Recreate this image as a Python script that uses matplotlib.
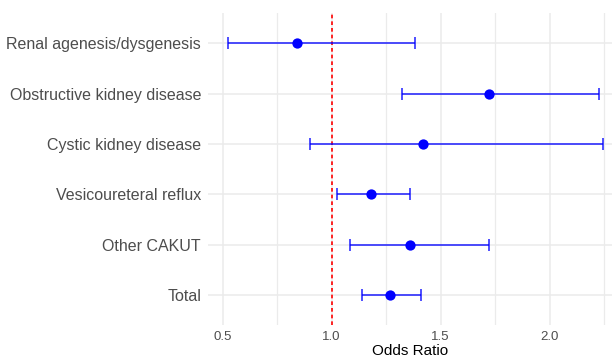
import matplotlib
matplotlib.use("Agg")
import matplotlib.pyplot as plt
from matplotlib.ticker import MultipleLocator

categories = ["Renal agenesis/dysgenesis", "Obstructive kidney disease",
              "Cystic kidney disease", "Vesicoureteral reflux",
              "Other CAKUT", "Total"]
odds_ratio = [0.842, 1.721, 1.420, 1.180, 1.359, 1.270]
ci_lower = [0.524, 1.323, 0.901, 1.024, 1.083, 1.141]
ci_upper = [1.383, 2.227, 2.244, 1.362, 1.721, 1.411]
x_ticks = [0.5, 1.0, 1.5, 2.0]

plt.rcParams['font.family'] = ['Liberation Sans', 'DejaVu Sans']

fig = plt.figure(figsize=(6.12, 3.64), dpi=100)
ax = fig.add_axes([208/612, 1-325/364, 1-208/612, (325-13.3)/364])

n = len(categories)
ypos = [n - i for i in range(n)]

err_lo = [o - l for o, l in zip(odds_ratio, ci_lower)]
err_hi = [u - o for o, u in zip(odds_ratio, ci_upper)]
ax.errorbar(odds_ratio, ypos, xerr=[err_lo, err_hi], fmt='none',
            ecolor='blue', alpha=0.75, elinewidth=1.3, capsize=4, capthick=1.3, zorder=3)
ax.scatter(odds_ratio, ypos, s=55, color='blue', zorder=4, linewidths=0)
ax.axvline(1.0, color='red', linestyle=(0, (2.2, 1.8)), linewidth=1.2, zorder=2)

ax.set_xlim(0.433, 0.5 + (612 - 222.5) / 218)
ax.set_ylim(0.4, n + 0.6)
ax.set_xticks(x_ticks)
ax.set_xticklabels([f"{t:.1f}" for t in x_ticks])
ax.xaxis.set_minor_locator(MultipleLocator(0.25))
ax.set_yticks(ypos)
ax.set_yticklabels(categories)

ax.grid(True, which='major', color='#EBEBEB', linewidth=1.1)
ax.grid(True, which='minor', axis='x', color='#EBEBEB', linewidth=0.9)
ax.set_axisbelow(True)
for s in ax.spines.values():
    s.set_visible(False)
ax.tick_params(axis='both', which='both', length=0)
ax.tick_params(axis='y', labelsize=11.5, labelcolor='#4D4D4D', pad=5)
ax.tick_params(axis='x', labelsize=9.5, labelcolor='#4D4D4D', pad=4)
ax.set_xlabel("Odds Ratio", fontsize=11, color='black', labelpad=1)

fig.savefig("out.png", dpi=100)
